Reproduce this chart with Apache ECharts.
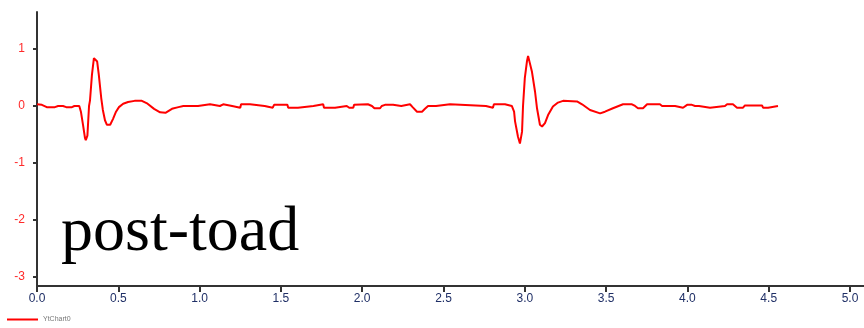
<!DOCTYPE html>
<html>
<head>
<meta charset="utf-8">
<script src="https://cdn.jsdelivr.net/npm/echarts@6/dist/echarts.min.js"></script>
<style>
  html, body { margin: 0; padding: 0; background: #fff; }
  #chart { width: 864px; height: 328px; }
</style>
</head>
<body>
<div id="chart"></div>
<script>
// trace samples: time (s) and amplitude
const times = [
  0.00, 0.03, 0.06, 0.11, 0.13, 0.16, 0.18, 0.215, 0.23, 0.26,
  0.27, 0.283, 0.295, 0.30, 0.31, 0.32, 0.326, 0.338, 0.35, 0.357,
  0.37, 0.38, 0.395, 0.405, 0.418, 0.43, 0.45, 0.467, 0.486, 0.504,
  0.53, 0.56, 0.60, 0.645, 0.68, 0.72, 0.757, 0.79, 0.83, 0.87,
  0.90, 0.94, 0.99, 0.997, 1.064, 1.07, 1.125, 1.13, 1.145, 1.15,
  1.20, 1.205, 1.25, 1.255, 1.31, 1.316, 1.40, 1.41, 1.45, 1.458,
  1.54, 1.545, 1.605, 1.61, 1.70, 1.705, 1.76, 1.765, 1.833, 1.84,
  1.905, 1.92, 1.945, 1.95, 2.035, 2.06, 2.075, 2.11, 2.12, 2.14,
  2.19, 2.20, 2.24, 2.245, 2.294, 2.31, 2.337, 2.368, 2.386, 2.405,
  2.454, 2.46, 2.54, 2.552, 2.761, 2.767, 2.804, 2.81, 2.878, 2.89,
  2.92, 2.934, 2.94, 2.958, 2.97, 2.983, 2.989, 3.00, 3.013, 3.02,
  3.032, 3.044, 3.063, 3.075, 3.093, 3.106, 3.124, 3.143, 3.173, 3.204,
  3.235, 3.321, 3.352, 3.401, 3.463, 3.493, 3.542, 3.604, 3.659, 3.678,
  3.696, 3.727, 3.752, 3.831, 3.844, 3.924, 3.936, 3.973, 3.998, 4.028,
  4.047, 4.071, 4.077, 4.139, 4.151, 4.231, 4.244, 4.28, 4.305, 4.342,
  4.354, 4.459, 4.465, 4.496, 4.508, 4.557
]
const amps = [
  0.03, 0.02, -0.02, -0.02, 0.0, 0.0, -0.02, -0.02, 0.0, 0.0,
  -0.1, -0.33, -0.56, -0.6, -0.52, 0.0, 0.1, 0.55, 0.84, 0.86,
  0.78, 0.55, 0.14, -0.07, -0.25, -0.33, -0.33, -0.23, -0.1, -0.02,
  0.04, 0.07, 0.09, 0.09, 0.04, -0.05, -0.11, -0.12, -0.05, -0.02,
  0.0, 0.0, 0.0, 0.03, 0.03, 0.0, 0.0, 0.03, 0.03, 0.0,
  0.0, -0.03, -0.03, 0.03, 0.03, 0.0, 0.0, -0.03, -0.03, 0.02,
  0.02, -0.03, -0.03, 0.0, 0.0, 0.03, 0.03, -0.03, -0.03, 0.0,
  0.0, -0.03, -0.03, 0.02, 0.03, 0.0, -0.04, -0.04, 0.0, 0.02,
  0.02, 0.0, 0.0, 0.03, 0.03, -0.02, -0.1, -0.1, -0.05, 0.0,
  0.0, 0.03, 0.03, 0.0, 0.0, -0.03, -0.03, 0.03, 0.03, 0.0,
  0.0, -0.1, -0.27, -0.54, -0.66, -0.45, 0.0, 0.49, 0.78, 0.88,
  0.87, 0.6, 0.25, -0.04, -0.33, -0.36, -0.3, -0.16, -0.01, 0.06,
  0.09, 0.08, 0.03, -0.07, -0.13, -0.1, -0.04, 0.03, 0.03, 0.0,
  -0.04, -0.04, 0.03, 0.03, 0.0, 0.0, -0.03, -0.03, 0.02, 0.02,
  0.0, 0.0, -0.03, -0.03, 0.0, 0.0, 0.03, 0.03, -0.03, -0.03,
  0.01, 0.01, -0.03, -0.03, 0.0, 0.0
]
const xTicks = [0, 0.5, 1, 1.5, 2, 2.5, 3, 3.5, 4, 4.5, 5]
const yTicks = [-3, -2, -1, 0, 1]
const seriesName = 'YtChart0'
const overlayText = 'post-toad'

const chart = echarts.init(document.getElementById('chart'), null, { renderer: 'canvas' })

chart.setOption({
  animation: false,
  grid: { left: 37, right: 0, top: 12, bottom: 42 },
  legend: {
    left: 2,
    top: 311,
    itemWidth: 31,
    itemHeight: 2,
    itemGap: 6,
    icon: 'rect',
    textStyle: { fontFamily: 'Liberation Sans', fontSize: 7, color: '#777' },
    data: [seriesName]
  },
  xAxis: {
    type: 'value',
    min: 0,
    max: 5.086,
    splitLine: { show: false },
    axisLine: { onZero: false, lineStyle: { color: '#333', width: 2 } },
    axisTick: { customValues: xTicks, length: 6, lineStyle: { color: '#333', width: 2 } },
    axisLabel: {
      customValues: xTicks,
      formatter: v => v.toFixed(1),
      margin: 7,
      fontFamily: 'Liberation Sans',
      fontSize: 12,
      color: '#1f2f66'
    }
  },
  yAxis: {
    type: 'value',
    min: -3.16,
    max: 1.65,
    splitLine: { show: false },
    axisLine: { show: true, onZero: false, lineStyle: { color: '#333', width: 2 } },
    axisTick: { show: true, customValues: yTicks, length: 4, lineStyle: { color: '#333', width: 2 } },
    axisLabel: {
      customValues: yTicks,
      margin: 12,
      fontFamily: 'Liberation Sans',
      fontSize: 12,
      color: '#ff2a2a'
    }
  },
  graphic: [{
    type: 'text',
    left: 61,
    top: 201,
    z: 100,
    style: {
      text: overlayText,
      font: '64px "Liberation Serif"',
      fill: '#000'
    }
  }],
  series: [{
    name: seriesName,
    type: 'line',
    showSymbol: false,
    color: '#ff0000',
    lineStyle: { width: 2, color: '#ff0000' },
    data: times.map((t, i) => [t, amps[i]])
  }]
})
</script>
</body>
</html>
